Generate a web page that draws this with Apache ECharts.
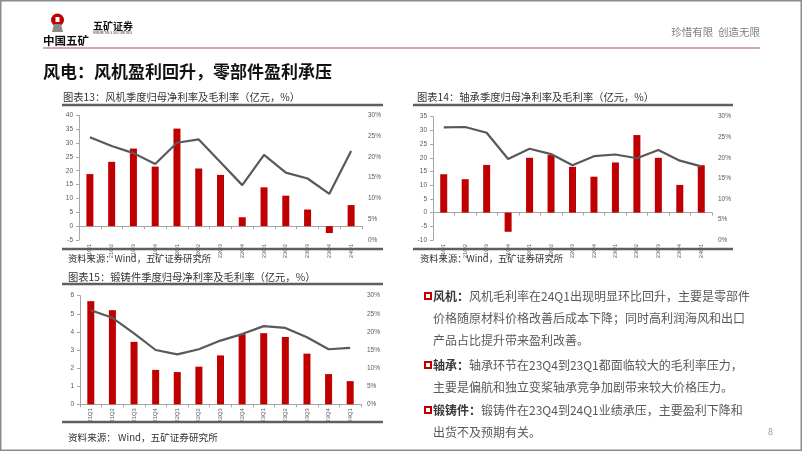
<!DOCTYPE html>
<html>
<head>
<meta charset="utf-8">
<script src="https://cdn.jsdelivr.net/npm/echarts@6/dist/echarts.min.js"></script>
<style>
html,body{margin:0;padding:0;background:#fff;}
#c{width:802px;height:451px;}
</style>
</head>
<body>
<div id="c"></div>
<script>
const categories = ['21Q1','21Q2','21Q3','21Q4','22Q1','22Q2','22Q3','22Q4','23Q1','23Q2','23Q3','23Q4','24Q1'];
// 图表13 风机
const fanProfit = [18.8, 23.2, 28.0, 21.5, 35.2, 20.8, 18.5, 3.2, 14.0, 11.0, 6.0, -2.5, 7.6];
const fanMargin = [24.7, 22.6, 20.9, 18.3, 23.4, 24.2, 18.7, 13.2, 20.5, 16.2, 14.8, 11.1, 21.4];
// 图表14 轴承
const bearingProfit = [14.0, 12.2, 17.4, -7.0, 20.0, 21.0, 16.7, 13.1, 18.3, 28.3, 20.0, 10.1, 17.3];
const bearingMargin = [27.4, 27.5, 26.1, 19.7, 22.2, 20.9, 18.2, 20.4, 20.8, 19.9, 21.9, 19.3, 17.9];
// 图表15 锻铸件
const forgingProfit = [5.7, 5.2, 3.45, 1.9, 1.78, 2.08, 2.7, 3.87, 3.93, 3.72, 2.8, 1.67, 1.28];
const forgingMargin = [26.0, 23.9, 19.6, 15.0, 13.8, 15.2, 17.6, 19.4, 21.6, 21.1, 18.5, 15.2, 15.6];

const FONT = '"Noto Sans CJK SC", "Noto Sans", sans-serif';
const NUMFONT = '"Liberation Sans", Arial, sans-serif';
const RED = '#C00000';
const LINE = '#595959';
const AX = '#a6a6a6';

const chart = echarts.init(document.getElementById('c'), null, {renderer:'canvas'});

function xAxis(gi, zeroIdx){
  return {
    gridIndex: gi, type:'category', data: categories,
    axisLine:{show:true, onZero:true, onZeroAxisIndex: zeroIdx, lineStyle:{color:AX, width:1}},
    axisTick:{show:true, length:3, lineStyle:{color:AX}},
    axisLabel:{rotate:90, fontSize:5.8, color:'#595959', margin:4, fontFamily:NUMFONT, interval:0},
    splitLine:{show:false}
  };
}
function leftAxis(gi, min, max, interval){
  return {
    gridIndex: gi, type:'value', min, max, interval, position:'left',
    axisLine:{show:true, lineStyle:{color:AX}},
    axisTick:{show:true, length:3, lineStyle:{color:AX}},
    axisLabel:{fontSize:6.5, color:'#595959', margin:6, fontFamily:NUMFONT},
    splitLine:{show:false}
  };
}
function rightAxis(gi){
  return {
    gridIndex: gi, type:'value', min:0, max:30, interval:5, position:'right',
    axisLine:{show:false}, axisTick:{show:false},
    axisLabel:{fontSize:6.5, color:'#595959', margin:6, fontFamily:NUMFONT, formatter:'{value}%'},
    splitLine:{show:false}
  };
}
function bar(xi, yi, data){
  return {type:'bar', xAxisIndex:xi, yAxisIndex:yi, data, barWidth:7, itemStyle:{color:RED}, animation:false};
}
function line(xi, yi, data){
  return {type:'line', xAxisIndex:xi, yAxisIndex:yi, data, symbol:'none', lineStyle:{color:LINE, width:2.2}, itemStyle:{color:LINE}, animation:false, z:3};
}
function txt(x, y, text, size, color, weight, align){
  return {type:'text', x, y, silent:true, style:{text, fontSize:size, fontFamily:FONT, fontWeight:weight||'normal', fill:color, align:align||'left', verticalAlign:'middle'}};
}
function hline(x1, x2, y, color, h){
  return {type:'rect', silent:true, z:100, shape:{x:x1, y:y-h/2, width:x2-x1, height:h}, style:{fill:color}};
}
function bullet(y, label, rest){
  return [
    {type:'rect', silent:true, shape:{x:425, y:y-3, width:6, height:6}, style:{fill:'none', stroke:RED, lineWidth:2}},
    {type:'text', x:433, y, silent:true, style:{
      text:'{b|'+label+'}{n|'+rest+'}', fontSize:12, fontFamily:FONT, verticalAlign:'middle',
      rich:{b:{fontWeight:'bold', fill:'#3a3a3a', fontSize:12, fontFamily:FONT}, n:{fill:'#595959', fontSize:12, fontFamily:FONT}}
    }}
  ];
}
function plain(y, text){
  return txt(433, y, text, 12, '#595959');
}

const graphics = [
  {type:'rect', silent:true, shape:{x:0.75, y:0.75, width:800.5, height:449.5}, style:{fill:'none', stroke:'#8c8c8c', lineWidth:1.5}},
  // logo
  {type:'circle', silent:true, shape:{cx:57.5, cy:20, r:6.5}, style:{fill:RED}},
  {type:'polygon', silent:true, shape:{points:[[52,32],[63,32],[61,24],[54,24]]}, style:{fill:'#8a8a8a'}},
  {type:'rect', silent:true, shape:{x:55.5, y:17, width:4, height:5}, style:{fill:'#fff'}},
  txt(43, 41, '中国五矿', 11.5, '#111', 'bold'),
  txt(93, 26, '五矿证券', 10, '#111', 'bold'),
  txt(93, 33, 'MINMETALS SECURITIES', 3.5, '#333'),
  txt(760, 32, '珍惜有限  创造无限', 10.5, '#7f7f7f', 'normal', 'right'),
  hline(43, 760, 48, '#d5a7ae', 2),
  txt(43, 72, '风电：风机盈利回升，零部件盈利承压', 17, '#111', 'bold'),
  txt(63, 97, '图表13：风机季度归母净利率及毛利率（亿元，%）', 10.3, '#333'),
  hline(62, 383, 105, '#5f5f5f', 2.5),
  hline(62, 383, 249, '#5f5f5f', 2.5),
  txt(68, 258, '资料来源：Wind，五矿证券研究所', 9.3, '#333'),
  txt(417, 97, '图表14：轴承季度归母净利率及毛利率（亿元，%）', 10.3, '#333'),
  hline(413, 733, 105, '#5f5f5f', 2.5),
  hline(413, 733, 249, '#5f5f5f', 2.5),
  txt(420, 258, '资料来源：Wind，五矿证券研究所', 9.3, '#333'),
  txt(68, 277, '图表15：锻铸件季度归母净利率及毛利率（亿元，%）', 10.3, '#333'),
  hline(62, 383, 284, '#5f5f5f', 2.5),
  hline(62, 383, 422, '#5f5f5f', 2.5),
  txt(68, 437, '资料来源： Wind，五矿证券研究所', 9.6, '#333'),
  ...bullet(296, '风机：', '风机毛利率在24Q1出现明显环比回升，主要是零部件'),
  plain(318, '价格随原材料价格改善后成本下降；同时高利润海风和出口'),
  plain(340, '产品占比提升带来盈利改善。'),
  ...bullet(365, '轴承：', '轴承环节在23Q4到23Q1都面临较大的毛利率压力，'),
  plain(387, '主要是偏航和独立变桨轴承竞争加剧带来较大价格压力。'),
  ...bullet(410, '锻铸件：', '锻铸件在23Q4到24Q1业绩承压，主要盈利下降和'),
  plain(432, '出货不及预期有关。'),
  txt(768, 432, '8', 9, '#999')
];

chart.setOption({
  animation:false,
  textStyle:{fontFamily:FONT},
  grid:[
    {left:79, top:115.3, width:283, height:124.7, containLabel:false},
    {left:433, top:116.7, width:279, height:123.3, containLabel:false},
    {left:80, top:295.7, width:281, height:108.6, containLabel:false}
  ],
  xAxis:[xAxis(0,0), xAxis(1,2), xAxis(2,4)],
  yAxis:[
    leftAxis(0,-5,40,5), rightAxis(0),
    leftAxis(1,-10,35,5), rightAxis(1),
    leftAxis(2,0,6,1), rightAxis(2)
  ],
  series:[
    bar(0,0,fanProfit), line(0,1,fanMargin),
    bar(1,2,bearingProfit), line(1,3,bearingMargin),
    bar(2,4,forgingProfit), line(2,5,forgingMargin)
  ],
  graphic:{elements:graphics}
});
</script>
</body>
</html>
